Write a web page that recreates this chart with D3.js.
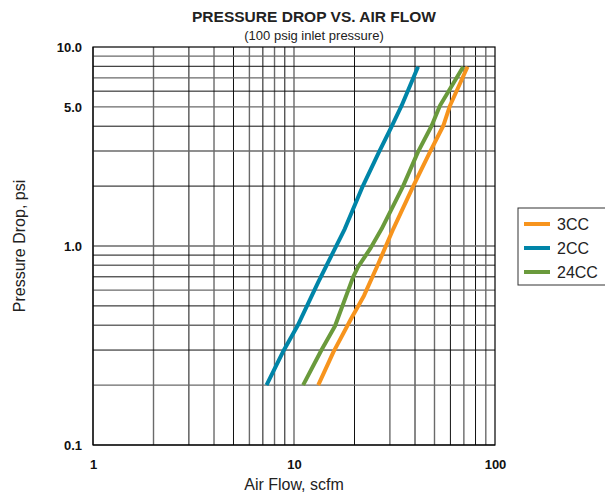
<!DOCTYPE html>
<html>
<head>
<meta charset="utf-8">
<script src="https://cdn.jsdelivr.net/npm/d3@7/dist/d3.min.js"></script>
<style>
  body { margin: 0; background: #fff; }
  text { font-family: 'Liberation Sans', Arial, sans-serif; }
</style>
</head>
<body>
<svg id="canvas" width="605" height="497"></svg>
<script>
// values (x = air flow scfm, y = pressure drop psi)
const flow3CC = [13.2, 15.7, 19.2, 22.3, 26.0, 31.2, 39.2, 47.5, 55.3, 59.7, 73.0]
const drop3CC = [0.2, 0.293, 0.43, 0.563, 0.796, 1.22, 2.0, 2.97, 4.02, 5.07, 7.96]

const flow2CC = [7.3, 8.8, 10.4, 13.2, 17.9, 22.0, 26.5, 30.5, 34.3, 41.4]
const drop2CC = [0.2, 0.293, 0.396, 0.659, 1.22, 2.0, 2.97, 3.96, 5.07, 7.96]

const flow24CC = [11.1, 13.7, 16.0, 19.7, 20.8, 23.9, 27.3, 34.9, 41.4, 48.4, 53.2, 69.5]
const drop24CC = [0.2, 0.3, 0.396, 0.70, 0.784, 0.966, 1.22, 2.0, 2.97, 4.02, 5.07, 7.96]

const seriesNames = ['3CC', '2CC', '24CC']
const seriesColors = ['#f7941d', '#0085a8', '#6a9a3c']

const xTickLabels = ['1', '10', '100']
const yTickValues = [0.1, 1, 5, 10]
const yTickLabels = ['0.1', '1.0', '5.0', '10.0']

const series = [
  { name: seriesNames[0], color: seriesColors[0], pts: flow3CC.map((f, i) => [f, drop3CC[i]]) },
  { name: seriesNames[1], color: seriesColors[1], pts: flow2CC.map((f, i) => [f, drop2CC[i]]) },
  { name: seriesNames[2], color: seriesColors[2], pts: flow24CC.map((f, i) => [f, drop24CC[i]]) }
]

const svg = d3.select('#canvas')

const x = d3.scaleLog().domain([1, 100]).range([93, 495])
const y = d3.scaleLog().domain([0.1, 10]).range([445, 47])

// grid lines at 1..9 of each decade
const minor = []
for (const dec of [1, 10]) for (let k = 1; k < 10; k++) minor.push(dec * k)
const minorY = []
for (const dec of [0.1, 1]) for (let k = 1; k < 10; k++) minorY.push(+(dec * k).toFixed(2))

const grid = svg.append('g')
grid.selectAll('.vx')
  .data(minor)
  .join('line')
  .attr('x1', d => x(d)).attr('x2', d => x(d))
  .attr('y1', y(0.1)).attr('y2', y(10))
  .attr('stroke', (d, i) => (i % 2 ? '#6a6a6a' : '#111'))
  .attr('stroke-width', (d, i) => (i % 2 ? 1.4 : 1))

grid.selectAll('.hy')
  .data(minorY)
  .join('line')
  .attr('y1', d => y(d)).attr('y2', d => y(d))
  .attr('x1', x(1)).attr('x2', x(100))
  .attr('stroke', (d, i) => (i % 2 ? '#6a6a6a' : '#111'))
  .attr('stroke-width', (d, i) => (i % 2 ? 1.4 : 1))

svg.append('rect')
  .attr('x', x(1)).attr('y', y(10))
  .attr('width', x(100) - x(1)).attr('height', y(0.1) - y(10))
  .attr('fill', 'none').attr('stroke', '#000').attr('stroke-width', 1.2)

// curves
const line = d3.line().x(d => x(d[0])).y(d => y(d[1]))
svg.append('g').selectAll('path')
  .data(series)
  .join('path')
  .attr('d', d => line(d.pts))
  .attr('fill', 'none')
  .attr('stroke', d => d.color)
  .attr('stroke-width', 4)
  .attr('stroke-linejoin', 'round')

// axes (labels only, the grid draws the lines)
const xAxis = svg.append('g')
  .attr('transform', `translate(0,${y(0.1) + 12})`)
  .call(d3.axisBottom(x).tickValues([1, 10, 100]).tickFormat((d, i) => xTickLabels[i]).tickSize(0))
xAxis.select('.domain').remove()
xAxis.selectAll('text')
  .attr('font-size', 13).attr('font-weight', 'bold').attr('fill', '#111')
  .attr('font-family', "'Liberation Sans', Arial, sans-serif")

const yAxis = svg.append('g')
  .attr('transform', `translate(${x(1) - 8},0)`)
  .call(d3.axisLeft(y).tickValues(yTickValues).tickFormat((d, i) => yTickLabels[i]).tickSize(0))
yAxis.select('.domain').remove()
yAxis.selectAll('text')
  .attr('font-size', 13).attr('font-weight', 'bold').attr('fill', '#111')
  .attr('font-family', "'Liberation Sans', Arial, sans-serif")

// titles
svg.append('text')
  .attr('x', 314).attr('y', 22)
  .attr('text-anchor', 'middle')
  .attr('font-size', 14).attr('font-weight', 'bold').attr('fill', '#222')
  .attr('textLength', 244).attr('lengthAdjust', 'spacingAndGlyphs')
  .text('PRESSURE DROP VS. AIR FLOW')
svg.append('text')
  .attr('x', 314).attr('y', 40)
  .attr('text-anchor', 'middle')
  .attr('font-size', 13).attr('fill', '#222')
  .text('(100 psig inlet pressure)')

svg.append('text')
  .attr('x', 294).attr('y', 490)
  .attr('text-anchor', 'middle')
  .attr('font-size', 16).attr('fill', '#222')
  .text('Air Flow, scfm')

svg.append('text')
  .attr('transform', `translate(25,${y(1)}) rotate(-90)`)
  .attr('text-anchor', 'middle')
  .attr('font-size', 16).attr('fill', '#222')
  .text('Pressure Drop, psi')

// legend
const legend = svg.append('g').attr('transform', 'translate(518,208)')
legend.append('rect')
  .attr('width', 90).attr('height', 77)
  .attr('fill', '#fff').attr('stroke', '#333').attr('stroke-width', 1)
const item = legend.selectAll('.item')
  .data(series)
  .join('g')
  .attr('transform', (d, i) => `translate(0,${16 + i * 24})`)
item.append('line')
  .attr('x1', 6).attr('x2', 32)
  .attr('stroke', d => d.color).attr('stroke-width', 4)
item.append('text')
  .attr('x', 39).attr('y', 5.5)
  .attr('font-size', 16).attr('fill', '#222')
  .text(d => d.name)
</script>
</body>
</html>
